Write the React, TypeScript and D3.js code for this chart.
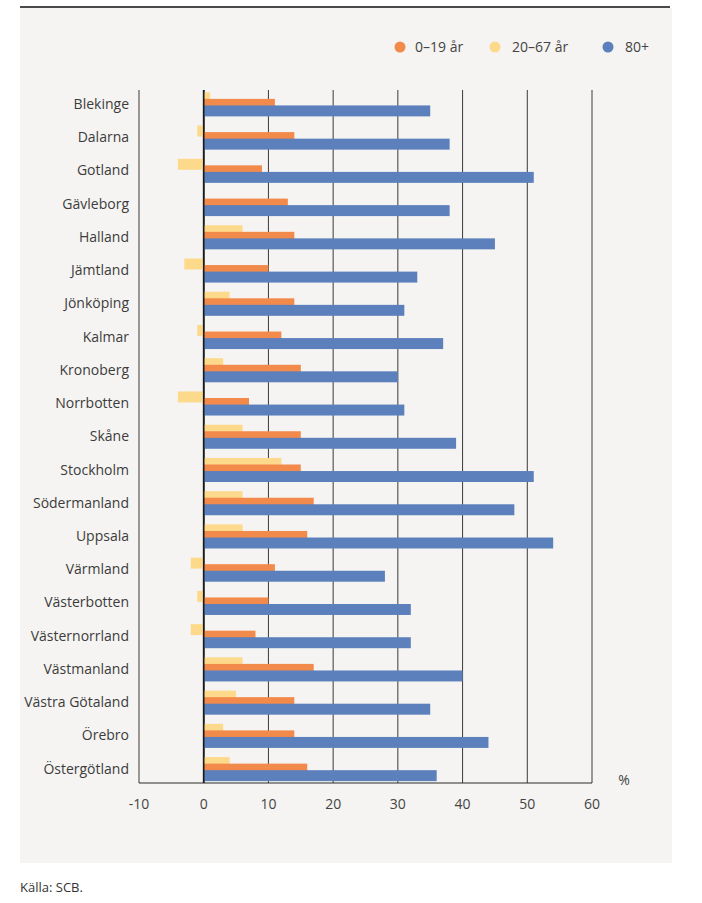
import React from "react";
import * as d3 from "d3";

const categories = [
  "Blekinge", "Dalarna", "Gotland", "Gävleborg", "Halland", "Jämtland", "Jönköping",
  "Kalmar", "Kronoberg", "Norrbotten", "Skåne", "Stockholm", "Södermanland", "Uppsala",
  "Värmland", "Västerbotten", "Västernorrland", "Västmanland", "Västra Götaland",
  "Örebro", "Östergötland",
];
const age0to19 = [11, 14, 9, 13, 14, 10, 14, 12, 15, 7, 15, 15, 17, 16, 11, 10, 8, 17, 14, 14, 16];
const age20to67 = [1, -1, -4, 0, 6, -3, 4, -1, 3, -4, 6, 12, 6, 6, -2, -1, -2, 6, 5, 3, 4];
const age80plus = [35, 38, 51, 38, 45, 33, 31, 37, 30, 31, 39, 51, 48, 54, 28, 32, 32, 40, 35, 44, 36];
const xTicks = [-10, 0, 10, 20, 30, 40, 50, 60];
const seriesNames = ["0–19 år", "20–67 år", "80+"];
const seriesColors = ["#f28a4b", "#fdd98b", "#5b80bb"];

const W = 702;
const H = 903;
const FONT = "'Open Sans', 'Noto Sans', sans-serif";

export default function App() {
  const x = d3.scaleLinear().domain([-10, 60]).range([139, 592]);
  const y = d3.scaleBand<string>().domain(categories).range([89, 787]).paddingInner(0).paddingOuter(0);
  const bw = y.bandwidth();
  const barH = bw * 0.33;
  const step = bw * 0.197;
  const start = bw * 0.1;

  // draw order: yellow (top), orange, blue
  const layers = [
    { values: age20to67, color: seriesColors[1], idx: 0 },
    { values: age0to19, color: seriesColors[0], idx: 1 },
    { values: age80plus, color: seriesColors[2], idx: 2 },
  ];

  const legendItems = [
    { cx: 400, tx: 415, label: seriesNames[0], color: seriesColors[0] },
    { cx: 495, tx: 512, label: seriesNames[1], color: seriesColors[1] },
    { cx: 608, tx: 625, label: seriesNames[2], color: seriesColors[2] },
  ];

  return (
    <svg width={W} height={H} style={{ position: "absolute", left: 0, top: 0 }} fontFamily={FONT}>
      <rect x={0} y={0} width={W} height={H} fill="#ffffff" />
      <rect x={20} y={8} width={652} height={855} fill="#f5f4f2" />
      <line x1={20} x2={670} y1={7} y2={7} stroke="#4a4a4a" strokeWidth={2} />

      {/* legend */}
      {legendItems.map((d) => (
        <g key={d.label}>
          <circle cx={d.cx} cy={47} r={5.5} fill={d.color} />
          <text x={d.tx} y={47} dy="0.35em" fontSize={14} fill="#444">{d.label}</text>
        </g>
      ))}

      {/* gridlines */}
      {xTicks.map((t) => (
        <line key={t} x1={x(t)} x2={x(t)} y1={90} y2={783}
          stroke={t === 0 ? "#1a1a1a" : "#3a3a3a"} strokeWidth={t === 0 ? 1.6 : 1} />
      ))}

      {/* bars */}
      {layers.map((layer) =>
        layer.values.map((v, i) => {
          const y0 = (y(categories[i]) as number) + start + layer.idx * step;
          const x0 = x(Math.min(0, v));
          const x1 = x(Math.max(0, v));
          return (
            <rect key={`${layer.idx}-${i}`} x={x0} y={y0} width={Math.max(0, x1 - x0)} height={barH} fill={layer.color} />
          );
        })
      )}

      {/* zero line on top */}
      <line x1={x(0)} x2={x(0)} y1={90} y2={783} stroke="#1a1a1a" strokeWidth={1.6} />
      {/* bottom axis */}
      <line x1={x(-10)} x2={x(60)} y1={783} y2={783} stroke="#2a2a2a" strokeWidth={1.2} />

      {/* category labels */}
      {categories.map((c) => (
        <text key={c} x={129} y={(y(c) as number) + 15} dy="0.35em" textAnchor="end" fontSize={14} fill="#3c3c3c">{c}</text>
      ))}

      {/* x tick labels */}
      {xTicks.map((t) => (
        <text key={t} x={x(t)} y={804} dy="0.35em" textAnchor="middle" fontSize={14} fill="#444">{t}</text>
      ))}
      <text x={624} y={780} dy="0.35em" textAnchor="middle" fontSize={14} fill="#444">%</text>

      <text x={20} y={887} dy="0.35em" fontSize={13} fill="#333">Källa: SCB.</text>
    </svg>
  );
}
